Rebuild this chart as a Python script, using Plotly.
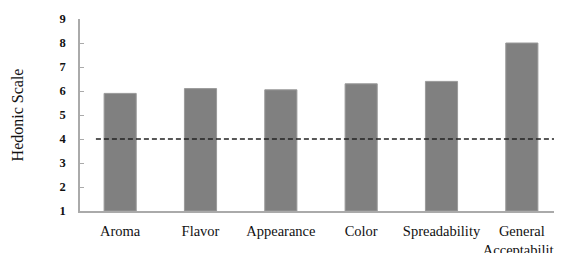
import plotly.graph_objects as go

categories = ["Aroma", "Flavor", "Appearance", "Color", "Spreadability", "General<br>Acceptability"]
values = [5.9, 6.1, 6.05, 6.3, 6.4, 8.0]
y_ticks = [1, 2, 3, 4, 5, 6, 7, 8, 9]
threshold = 4

fig = go.Figure()
fig.add_trace(go.Bar(
    x=categories, y=[v - 1 for v in values], base=1,
    marker=dict(color="#808080", line=dict(color="#9a9a9a", width=1)),
    width=0.4,
))
fig.add_shape(type="line", xref="paper", yref="y",
              x0=0.033, x1=1, y0=threshold, y1=threshold,
              line=dict(color="#222222", width=1.5, dash="5px,3px"))

# page body has an 8px default margin, so the figure is sized/offset to compensate
fig.update_layout(
    width=554, height=245,
    margin=dict(l=72, r=0, t=11, b=42),
    plot_bgcolor="white", paper_bgcolor="white",
    showlegend=False,
    font=dict(family="Liberation Serif", size=14.5, color="#111111"),
)
fig.update_xaxes(
    showline=True, linecolor="#aaaaaa", linewidth=1.5,
    ticks="", tickfont=dict(family="Liberation Serif", size=14.5),
    tickangle=0, automargin=False,
    ticklabelstandoff=6,
)
fig.update_yaxes(
    range=[1, 9], tickvals=y_ticks,
    showline=True, linecolor="#aaaaaa", linewidth=1.5,
    showgrid=False, zeroline=False,
    ticks="inside", ticklen=4, tickcolor="#aaaaaa",
    tickfont=dict(family="Liberation Serif", size=12.5, weight="bold"),
    ticklabelstandoff=10, automargin=False,
    title=dict(text="Hedonic Scale", font=dict(family="Liberation Serif", size=16), standoff=32),
)
fig.write_html("out.html")
